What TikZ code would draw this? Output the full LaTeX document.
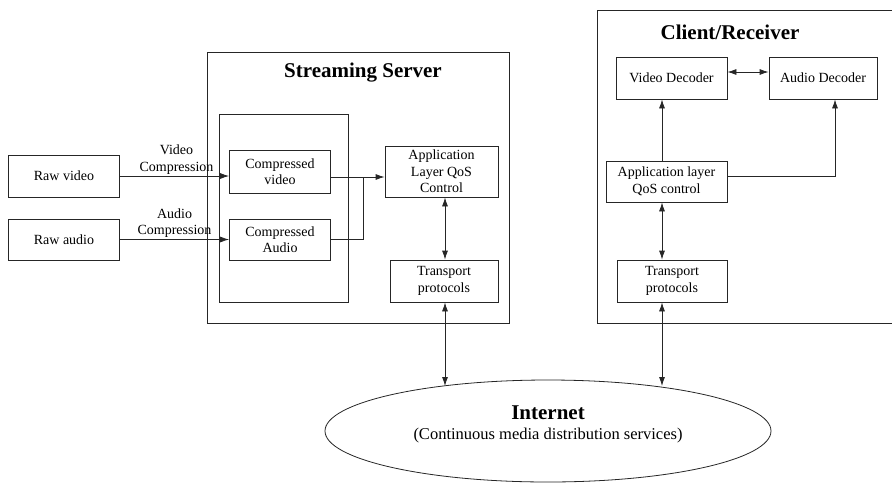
\documentclass[tikz,border=0pt]{standalone}
\usepackage{fontspec}
\setmainfont{Liberation Serif}
\usetikzlibrary{arrows.meta,shapes.geometric}
\begin{document}
\begin{tikzpicture}[x=1pt,y=-1pt,
  line width=0.8pt, draw=black!85,
  >={Latex[length=9pt,width=6pt]},
  box/.style={draw, rectangle, align=center, inner sep=0pt,
    font=\fontsize{14}{16.5}\selectfont},
  frame/.style={draw, rectangle, inner sep=0pt},
  title/.style={font=\fontsize{21}{25}\selectfont\bfseries},
  lbl/.style={align=center, inner sep=1.5pt, font=\fontsize{14}{16.5}\selectfont}]
\useasboundingbox (0,0) rectangle (892,483);

% sources
\node[box, minimum width=111, minimum height=42] (rv) at (64,176) {Raw video};
\node[box, minimum width=111, minimum height=41] (ra) at (64,239.5) {Raw audio};

% streaming server
\node[frame, minimum width=302, minimum height=271] (server) at (358,187.5) {};
\node[title] (stitle) at (363,73) {Streaming Server};
\node[frame, minimum width=129, minimum height=188] (enc) at (283.5,208) {};
\node[box, minimum width=101, minimum height=43] (cv) at (280,171.5) {Compressed\\video};
\node[box, minimum width=101, minimum height=41] (ca) at (280,239.5) {Compressed\\Audio};
\node[box, minimum width=113, minimum height=51] (sq) at (441.5,171.5) {Application\\Layer QoS\\Control};
\node[box, minimum width=108, minimum height=42] (st) at (444,281) {Transport\\protocols};

% client / receiver (frame runs past the right edge)
\draw (892,10) -- (597,10) -- (597,323) -- (892,323);
\node[title] (ctitle) at (730,32) {Client/Receiver};
\node[box, minimum width=111, minimum height=42] (vd) at (671.5,78) {Video Decoder};
\node[box, minimum width=108, minimum height=42] (ad) at (823,78) {Audio Decoder};
\node[box, minimum width=121, minimum height=41] (cq) at (666.5,181.5) {Application layer\\QoS control};
\node[box, minimum width=110, minimum height=42] (ct) at (672,281) {Transport\\protocols};

% internet
\node[draw, ellipse, minimum width=446, minimum height=102, inner sep=0pt] (net) at (548,431) {};
\node[font=\fontsize{21}{25}\selectfont\bfseries] (nettitle) at (548,413) {Internet};
\node[font=\fontsize{16.5}{19}\selectfont] (netsub) at (548,436) {(Continuous media distribution services)};

% helper points
\coordinate (merge) at (363,177);
\coordinate (sx) at (445,0);
\coordinate (cx) at (662,0);
\coordinate (turn) at (835,176);
\coordinate (snet) at (445,386);
\coordinate (cnet) at (662,386);

% encoding paths
\draw[->] (rv.east) -- (cv.west |- rv.east)
  node[lbl, midway, anchor=south, xshift=2pt] {Video\\Compression};
\draw[->] (ra.east) -- (ca.west |- ra.east)
  node[lbl, midway, anchor=south, xshift=0pt] {Audio\\Compression};
\draw (cv.east |- merge) -- (merge);
\draw (ca.east) -| (merge);
\draw[->] (merge) -- (sq.west |- merge);

% server stack
\draw[<->] (sq.south -| sx) -- (st.north -| sx);
\draw[<->] (st.south -| sx) -- (snet);

% client stack
\draw[<->] (cq.south -| cx) -- (ct.north -| cx);
\draw[<->] (ct.south -| cx) -- (cnet);
\draw[->] (cq.north -| cx) -- (vd.south -| cx);
\draw[->] (cq.east |- turn) -- (turn) -- (ad.south -| turn);
\draw[<->] ([yshift=6pt]vd.east) -- ([yshift=6pt]ad.west);
\end{tikzpicture}
\end{document}
